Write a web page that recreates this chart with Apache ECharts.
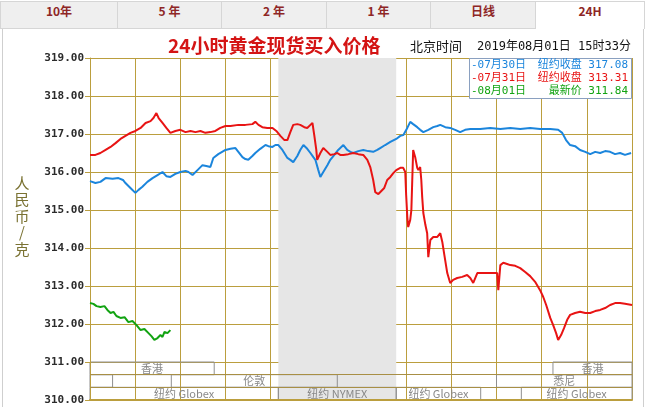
<!DOCTYPE html>
<html><head><meta charset="utf-8">
<script src="https://cdn.jsdelivr.net/npm/echarts/dist/echarts.min.js"></script>
<style>
html,body{margin:0;padding:0;background:#fff;}
#wrap{position:relative;width:646px;height:407px;overflow:hidden;}
#chart{position:absolute;left:0;top:0;width:646px;height:407px;}
.tab{position:absolute;top:1px;height:28px;line-height:28px;text-align:center;font:bold 12px "Noto Sans CJK SC",sans-serif;color:#8e2626;background:#efefef;border:1px solid #d6d6d6;box-sizing:border-box;}
.sel{background:#fff;border-bottom:none;}
#frameL{position:absolute;left:2px;top:29px;width:1px;height:378px;background:#cfcfcf;}
#frameR{position:absolute;left:643px;top:29px;width:1px;height:378px;background:#cfcfcf;}
</style></head>
<body><div id="wrap"><div id="chart"></div>
<div id="frameL"></div><div id="frameR"></div>
<div id="tabs"></div></div>
<script>
// ---- data (x = hours since 12:00 Beijing time) ----
const tabNames = ['10年','5 年','2 年','1 年','日线','24H'];
const blueTime = [0,0.24,0.46,0.69,1.00,1.26,1.46,1.57,1.79,2.01,2.15,2.32,2.54,2.77,2.99,3.21,3.38,3.56,3.78,4.00,4.23,4.36,4.54,4.76,4.98,5.15,5.33,5.46,5.68,6.00,6.22,6.44,6.57,6.75,6.88,7.01,7.19,7.32,7.54,7.77,7.90,8.08,8.21,8.34,8.52,8.74,8.87,9.00,9.18,9.31,9.45,9.62,9.76,9.89,9.98,10.11,10.20,10.33,10.51,10.64,10.82,10.99,11.22,11.39,11.53,11.66,11.88,12.10,12.32,12.54,12.72,12.85,13.07,13.30,13.56,13.74,13.87,14.05,14.18,14.31,14.49,14.62,14.76,14.98,15.20,15.38,15.51,15.73,15.95,16.17,16.39,16.61,16.84,17.28,17.72,18.17,18.61,19.05,19.49,19.93,20.38,20.73,20.91,21.08,21.26,21.48,21.70,21.93,22.15,22.37,22.59,22.81,23.03,23.25,23.47,23.69,23.96];
const blueValue = [315.76,315.71,315.74,315.84,315.82,315.84,315.79,315.71,315.58,315.45,315.53,315.61,315.74,315.84,315.92,316.00,315.89,315.87,315.95,316.00,316.03,316.00,315.92,316.05,316.18,316.16,316.13,316.37,316.47,316.58,316.61,316.63,316.53,316.39,316.34,316.32,316.42,316.50,316.61,316.71,316.68,316.66,316.71,316.71,316.58,316.37,316.32,316.26,316.42,316.58,316.71,316.61,316.50,316.39,316.32,316.05,315.87,316.00,316.18,316.32,316.45,316.58,316.71,316.58,316.53,316.50,316.55,316.58,316.55,316.53,316.58,316.63,316.71,316.79,316.87,316.95,316.97,317.16,317.32,317.26,317.18,317.11,317.05,317.11,317.18,317.21,317.24,317.18,317.16,317.11,317.05,317.11,317.13,317.13,317.16,317.13,317.16,317.13,317.16,317.13,317.13,317.11,317.03,316.84,316.71,316.68,316.58,316.53,316.47,316.53,316.50,316.55,316.53,316.47,316.50,316.45,316.50];
const redTime = [0,0.24,0.46,0.69,0.91,1.13,1.35,1.57,1.79,2.01,2.24,2.46,2.68,2.81,2.94,3.04,3.21,3.38,3.56,3.78,4.00,4.23,4.45,4.67,4.89,5.11,5.33,5.55,5.77,6.00,6.22,6.57,6.88,7.19,7.32,7.46,7.63,7.85,8.08,8.25,8.43,8.61,8.74,8.87,9.00,9.18,9.31,9.49,9.62,9.76,9.85,9.93,10.02,10.06,10.20,10.33,10.51,10.64,10.82,10.95,11.08,11.22,11.44,11.66,11.88,12.10,12.28,12.41,12.54,12.63,12.77,12.85,13.03,13.16,13.30,13.43,13.56,13.74,13.87,13.96,14.00,14.05,14.09,14.18,14.23,14.27,14.31,14.36,14.40,14.49,14.54,14.62,14.67,14.71,14.76,14.85,14.93,14.98,15.07,15.20,15.38,15.51,15.60,15.69,15.82,15.95,16.08,16.26,16.48,16.70,16.84,16.97,17.15,17.28,17.50,17.72,17.94,18.03,18.08,18.17,18.30,18.47,18.61,18.83,19.05,19.27,19.49,19.71,19.93,20.07,20.20,20.38,20.51,20.64,20.73,20.86,20.99,21.13,21.26,21.48,21.70,21.93,22.15,22.37,22.59,22.81,23.03,23.25,23.47,23.69,24.00];
const redValue = [316.45,316.45,316.50,316.58,316.66,316.76,316.87,316.95,317.03,317.08,317.16,317.29,317.34,317.42,317.55,317.42,317.29,317.16,317.03,317.08,317.11,317.05,317.08,317.05,317.08,317.03,317.05,317.08,317.16,317.21,317.21,317.24,317.24,317.26,317.32,317.24,317.18,317.16,317.16,317.08,316.95,316.84,316.84,317.05,317.24,317.26,317.24,317.18,317.16,317.24,317.29,316.97,316.58,316.32,316.50,316.63,316.53,316.45,316.47,316.50,316.45,316.45,316.47,316.50,316.47,316.45,316.32,316.13,315.79,315.47,315.42,315.39,315.58,315.79,315.87,315.97,316.05,316.11,316.11,316.00,315.39,314.82,314.55,314.74,315.00,315.79,316.58,316.53,316.39,316.11,316.05,316.13,315.79,315.34,314.92,314.61,314.39,313.76,314.21,314.29,314.29,314.39,314.16,313.82,313.34,313.08,313.16,313.21,313.24,313.29,313.21,313.08,313.34,313.34,313.34,313.34,313.34,313.34,312.89,313.55,313.61,313.58,313.55,313.53,313.47,313.37,313.26,313.11,312.89,312.71,312.50,312.16,311.97,311.76,311.58,311.71,311.89,312.11,312.24,312.29,312.32,312.29,312.29,312.34,312.37,312.42,312.50,312.55,312.55,312.53,312.50];
const greenTime = [0,0.15,0.29,0.46,0.64,0.77,0.91,1.04,1.17,1.35,1.53,1.70,1.88,2.06,2.24,2.41,2.59,2.72,2.85,2.99,3.12,3.21,3.30,3.43,3.56];
const greenValue = [312.55,312.53,312.47,312.45,312.47,312.37,312.29,312.32,312.21,312.16,312.18,312.05,312.08,311.97,311.84,311.87,311.76,311.68,311.58,311.63,311.71,311.66,311.79,311.76,311.84];
const legendDate = ['07月30日','07月31日','08月01日'];
const legendLabel = ['纽约收盘','纽约收盘','最新价'];
const legendValue = ['317.08','313.31','311.84'];
const nymexBand = [8.34, 13.56];
const sessionName  = ['香港','香港','','伦敦','悉尼','纽约 Globex','纽约 NYMEX','纽约 Globex','纽约 Globex'];
const sessionStart = [0,20.5,0,3.6,18.0,0,8.34,13.56,19.1];
const sessionEnd   = [5.5,24,1.0,10.95,24,8.34,13.56,17.3,24];
const sessionRow   = [0,0,1,1,1,2,2,2,2];

// ---- tabs ----
const tabEdges = [0,117,221,326,430,535,644];
const tabsDiv = document.getElementById('tabs');
tabNames.forEach((n,i)=>{
  const d=document.createElement('div');
  d.className='tab'+(i===tabNames.length-1?' sel':'');
  d.style.left=tabEdges[i]+'px'; d.style.width=(tabEdges[i+1]-tabEdges[i]+1)+'px';
  d.textContent=n; tabsDiv.appendChild(d);
});

const zip=(a,b)=>a.map((t,i)=>[t,b[i]]);
const GOLD='#bb9e3e';
const colors=['#1b85dc','#e81414','#12a312'];
const MONO='"DejaVu Sans Mono","Noto Sans CJK SC",monospace';

const chart = echarts.init(document.getElementById('chart'));
const option = {
  animation:false,
  backgroundColor:'#fff',
  grid:{left:90,top:58,width:542,height:342,containLabel:false},
  xAxis:{type:'value',min:0,max:24,interval:2,z:1,
    axisLine:{show:true,lineStyle:{color:GOLD,width:2}},
    axisTick:{show:false},axisLabel:{show:false},
    splitLine:{show:true,lineStyle:{color:GOLD,width:1}}},
  yAxis:{type:'value',min:310,max:319,interval:1,z:1,
    axisLine:{show:true,lineStyle:{color:GOLD,width:1}},
    axisTick:{show:true,length:5,lineStyle:{color:GOLD}},
    axisLabel:{margin:6,color:'#2b2b2b',fontFamily:'DejaVu Sans Mono',fontWeight:'bold',fontSize:11,
      formatter:v=>v.toFixed(2)},
    splitLine:{show:true,lineStyle:{color:GOLD,width:1}}},
  series:[
    {type:'line',z:0,data:[],silent:true,
     markArea:{silent:true,itemStyle:{color:'#e6e6e6'},
       data:[[{xAxis:nymexBand[0],yAxis:310},{xAxis:nymexBand[1],yAxis:319}]]}},
    {type:'line',z:2,data:[],silent:true,
     markLine:{silent:true,symbol:'none',label:{show:false},
       lineStyle:{color:'#a88f45',type:'solid',width:1},
       data:[{yAxis:310+1/3},{yAxis:310+2/3}]},
     markArea:{silent:true,
       itemStyle:{color:'rgba(255,255,255,0)',borderColor:'#8f8f8f',borderWidth:1},
       label:{show:true,position:'inside',color:'#888',fontSize:11,fontFamily:'"Noto Sans CJK SC",sans-serif'},
       data:sessionName.map((n,i)=>[
         {name:n,xAxis:sessionStart[i],yAxis:311-sessionRow[i]/3},
         {xAxis:sessionEnd[i],yAxis:311-(sessionRow[i]+1)/3}])}},
    {type:'line',z:3,data:zip(blueTime,blueValue),symbol:'none',lineStyle:{color:colors[0],width:2},silent:true},
    {type:'line',z:4,data:zip(redTime,redValue),symbol:'none',lineStyle:{color:colors[1],width:2},silent:true},
    {type:'line',z:5,data:zip(greenTime,greenValue),symbol:'none',lineStyle:{color:colors[2],width:2},silent:true}
  ],
  graphic:[
    {type:'text',left:168,top:36,z:10,style:{text:'24小时黄金现货买入价格',fill:'#d41414',
      font:'bold 19px "Noto Sans CJK SC",sans-serif'}},
    {type:'text',left:410,top:40,z:10,style:{text:'北京时间',fill:'#111',font:'13px "Noto Sans CJK SC",sans-serif'}},
    {type:'text',left:477,top:41,z:10,style:{text:'2019年08月01日 15时33分',fill:'#111',font:'12px '+MONO}},
    {type:'rect',z:10,shape:{x:469.5,y:58.5,width:162,height:40},style:{fill:'#fff',stroke:'#8aa0c0',lineWidth:1}},
    ...legendDate.map((d,i)=>({type:'text',z:11,x:471,y:59.5+i*13.3,style:{text:'-'+d,fill:colors[i],font:'11px '+MONO}})),
    ...legendLabel.map((l,i)=>({type:'text',z:11,x:628,y:59.5+i*13.3,style:{text:l+' '+legendValue[i],fill:colors[i],
      align:'right',font:'11px '+MONO}})),
    {type:'text',z:10,x:22,y:175,style:{text:'人\n民\n币\n/\n克',fill:'#7a7232',align:'center',
      font:'15px "Noto Sans CJK SC",sans-serif',lineHeight:16.5}}
  ]
};
chart.setOption(option);
</script></body></html>
